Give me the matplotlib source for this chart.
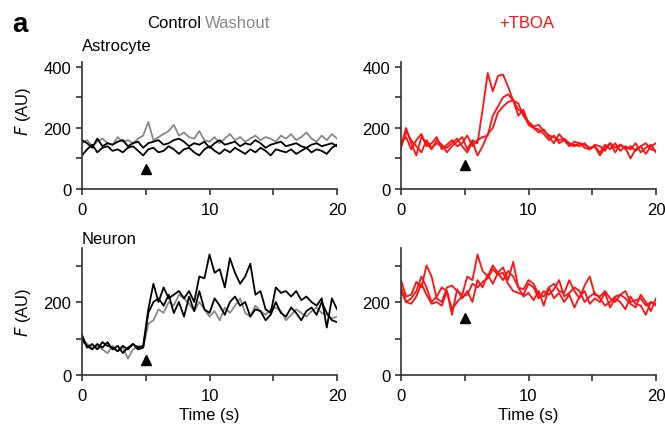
import numpy as np
import matplotlib
matplotlib.use("Agg")
import matplotlib.pyplot as plt

plt.rcParams['font.family'] = ['Liberation Sans', 'DejaVu Sans']
plt.rcParams['font.size'] = 12

# time axis, 0.4 s sampling
t = np.arange(51) * 0.4

# astrocyte, control (black) and washout (gray)
astro_ctrl1 = [160, 150, 135, 165, 140, 150, 145, 155, 160, 140,
               150, 155, 135, 150, 155, 160, 145, 150, 160, 165,
               155, 140, 150, 145, 155, 135, 150, 160, 145, 150,
               155, 140, 150, 145, 160, 150, 135, 145, 150, 155,
               140, 145, 150, 140, 135, 145, 150, 140, 145, 150, 140]
astro_ctrl2 = [110, 130, 145, 120, 135, 140, 125, 130, 120, 135,
               140, 125, 110, 130, 135, 120, 125, 140, 130, 115,
               130, 135, 120, 110, 130, 140, 125, 115, 130, 120,
               135, 125, 115, 130, 120, 135, 125, 110, 130, 125,
               120, 130, 115, 125, 135, 120, 130, 125, 115, 135, 145]
astro_wash = [150, 160, 140, 155, 165, 150, 145, 170, 155, 160,
              150, 165, 175, 220, 160, 170, 180, 190, 210, 175,
              185, 170, 165, 190, 160, 155, 170, 150, 165, 180,
              160, 170, 155, 165, 175, 160, 170, 165, 155, 175,
              165, 180, 160, 170, 185, 165, 155, 175, 160, 180, 165]

# astrocyte, +TBOA
astro_tboa1 = [140, 200, 150, 110, 170, 150, 130, 160, 145, 120,
               140, 155, 170, 130, 160, 150, 260, 380, 320, 370,
               375, 335, 290, 240, 260, 210, 200, 195, 180, 160,
               175, 150, 160, 145, 140, 150, 145, 135, 140, 120,
               145, 130, 150, 125, 140, 130, 150, 120, 135, 145, 120]
astro_tboa2 = [150, 170, 130, 160, 180, 140, 150, 170, 130, 145,
               160, 140, 150, 175, 140, 160, 170, 175, 240, 270,
               300, 310, 290, 260, 250, 220, 205, 210, 190, 175,
               170, 160, 165, 150, 145, 140, 150, 130, 145, 140,
               125, 150, 135, 145, 130, 140, 125, 140, 150, 130, 125]
astro_tboa3 = [135, 190, 160, 140, 120, 160, 135, 150, 140, 135,
               150, 165, 140, 120, 155, 110, 140, 180, 200, 250,
               270, 285, 290, 280, 240, 215, 200, 185, 195, 170,
               150, 180, 160, 140, 155, 150, 135, 130, 140, 110,
               135, 150, 120, 145, 135, 100, 130, 140, 115, 140, 150]

# neuron, control (black) and washout (gray)
neuron_ctrl1 = [110, 75, 85, 70, 90, 80, 75, 65, 80, 70, 85, 75, 80,
                180, 250, 200, 240, 210, 220, 230, 210, 230, 200,
                270, 265, 330, 280, 290, 240, 320, 280, 250, 270,
                305, 220, 230, 180, 170, 240, 225, 230, 215, 230,
                205, 215, 200, 190, 210, 130, 210, 180]
neuron_ctrl2 = [95, 80, 70, 85, 75, 90, 70, 80, 60, 75, 85, 70, 75,
                170, 200, 210, 190, 220, 170, 200, 160, 215, 175,
                230, 180, 170, 210, 190, 165, 200, 215, 190, 200,
                160, 180, 175, 150, 165, 200, 170, 160, 185, 170,
                150, 175, 185, 165, 200, 170, 150, 145]
neuron_wash = [100, 85, 75, 80, 70, 60, 80, 65, 75, 45, 70, 80, 75,
               140, 150, 180, 170, 200, 190, 220, 210, 195, 175,
               200, 180, 160, 175, 150, 185, 170, 190, 210, 170,
               160, 190, 175, 165, 180, 185, 175, 150, 165, 180,
               170, 160, 175, 185, 170, 165, 155, 160]

# neuron, +TBOA
neuron_tboa1 = [260, 215, 220, 255, 240, 300, 270, 210, 200, 240,
                245, 230, 220, 270, 260, 330, 285, 270, 300, 280,
                295, 260, 310, 240, 235, 260, 250, 220, 215, 240,
                250, 230, 225, 260, 230, 210, 245, 270, 220, 215,
                230, 210, 200, 220, 230, 200, 205, 210, 190, 200, 195]
neuron_tboa2 = [240, 200, 210, 230, 270, 240, 200, 215, 240, 230,
                180, 200, 215, 220, 250, 240, 255, 265, 290, 275,
                280, 250, 230, 225, 220, 250, 240, 210, 230, 220,
                235, 260, 215, 225, 240, 230, 200, 215, 225, 210,
                190, 200, 215, 220, 210, 195, 185, 220, 200, 175, 210]
neuron_tboa3 = [230, 200, 195, 215, 250, 220, 195, 200, 190, 230,
                165, 235, 210, 230, 200, 260, 240, 275, 250, 280,
                260, 285, 270, 240, 215, 225, 205, 230, 190, 240,
                210, 225, 200, 220, 185, 215, 230, 195, 210, 200,
                225, 185, 210, 200, 180, 215, 195, 190, 165, 200, 190]

# stimulus markers (time, F)
stim_t = 5
stim_y = {"astro_ctrl": 65, "astro_tboa": 80, "neuron_ctrl": 40, "neuron_tboa": 155}

RED = "#ff1010"
GRAY = "#888888"
SPINE = "#333333"

fig = plt.figure(figsize=(6.65, 4.27), dpi=100)
W, H = 665, 427


def make_ax(x0, x1, ytop, ybot, ymax):
    ax = fig.add_axes([x0 / W, 1 - ybot / H, (x1 - x0) / W, (ybot - ytop) / H])
    ax.set_xlim(0, 20)
    ax.set_ylim(0, ymax)
    for s in ["top", "right"]:
        ax.spines[s].set_visible(False)
    for s in ["left", "bottom"]:
        ax.spines[s].set_color(SPINE)
        ax.spines[s].set_linewidth(1.2)
    ax.set_xticks([0, 5, 10, 15, 20])
    ax.set_xticklabels(["0", "", "10", "", "20"])
    ax.tick_params(length=4.3, width=1.2, color=SPINE, pad=3.5, labelsize=12)
    ax.tick_params(axis="x", pad=5)
    ax.patch.set_alpha(0)
    return ax


ax1 = make_ax(82, 337, 63, 190, 416)
ax2 = make_ax(401, 656, 63, 190, 416)
ax3 = make_ax(82, 337, 249, 376, 348)
ax4 = make_ax(401, 656, 249, 376, 348)

for ax in (ax1, ax2):
    ax.set_yticks([0, 100, 200, 300, 400])
    ax.set_yticklabels(["0", "", "200", "", "400"])
for ax in (ax3, ax4):
    ax.set_yticks([0, 100, 200, 300])
    ax.set_yticklabels(["0", "", "200", ""])

lw = 1.3
ax1.plot(t, astro_wash, color=GRAY, lw=lw)
ax1.plot(t, astro_ctrl1, color="k", lw=lw)
ax1.plot(t, astro_ctrl2, color="k", lw=lw)
for y in (astro_tboa1, astro_tboa2, astro_tboa3):
    ax2.plot(t, y, color=RED, lw=lw)
ax3.plot(t, neuron_wash, color=GRAY, lw=lw)
ax3.plot(t, neuron_ctrl1, color="k", lw=lw)
ax3.plot(t, neuron_ctrl2, color="k", lw=lw)
for y in (neuron_tboa1, neuron_tboa2, neuron_tboa3):
    ax4.plot(t, y, color=RED, lw=lw)

for ax, key in zip((ax1, ax2, ax3, ax4), stim_y):
    ax.plot(stim_t, stim_y[key], marker="^", color="k", ms=7, clip_on=False)

for ax in (ax3, ax4):
    ax.set_xlabel("Time (s)", fontsize=12, labelpad=3)

fig.text(12 / W, 1 - 25 / H, "a", fontsize=20, fontweight="bold", va="center")
fig.text(201 / W, 1 - 24 / H, "Control", fontsize=12, ha="right", va="center")
fig.text(205 / W, 1 - 24 / H, "Washout", fontsize=12, ha="left", va="center", color=GRAY)
fig.text(527 / W, 1 - 24 / H, "+TBOA", fontsize=12, ha="center", va="center", color=RED)
fig.text(82 / W, 1 - 47 / H, "Astrocyte", fontsize=12, va="center")
fig.text(82 / W, 1 - 240 / H, "Neuron", fontsize=12, va="center")
fig.text(23 / W, 1 - 111 / H, "$\\it{F}$ (AU)", fontsize=12, rotation=90, ha="center", va="center")
fig.text(23 / W, 1 - 312 / H, "$\\it{F}$ (AU)", fontsize=12, rotation=90, ha="center", va="center")

fig.savefig("out.png", dpi=100)
